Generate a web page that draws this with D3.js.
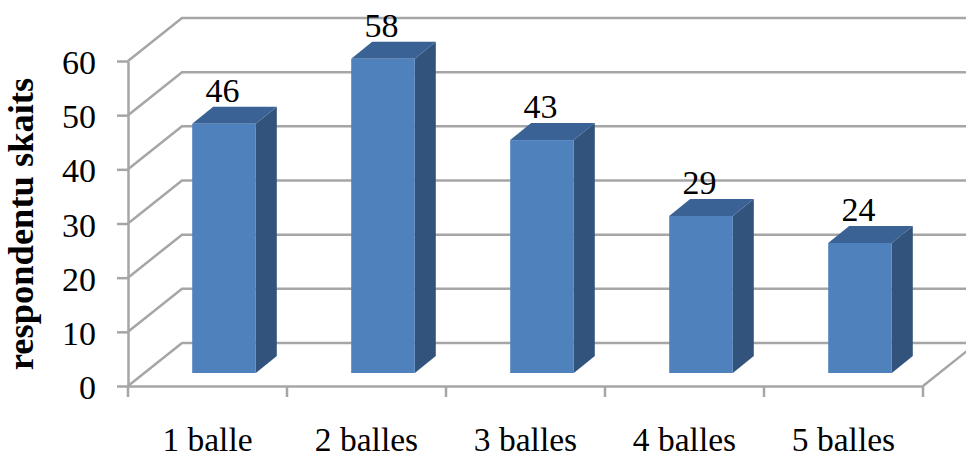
<!DOCTYPE html>
<html>
<head>
<meta charset="utf-8">
<script src="https://cdn.jsdelivr.net/npm/d3@7"></script>
<style>
  html, body { margin: 0; padding: 0; background: #fff; }
  text { font-family: "Liberation Serif", serif; fill: #000; }
</style>
</head>
<body>
<div id="chart"></div>
<script>
const categories = ["1 balle", "2 balles", "3 balles", "4 balles", "5 balles"];
const values = [46, 58, 43, 29, 24];
const yTicks = [0, 10, 20, 30, 40, 50, 60];
const yTitle = "respondentu skaits";

const width = 966, height = 454;
const gridColor = "#a6a6a6";
const lineW = 2.5;

// the 3d box: wall offset and bar depth
const wallDx = 54, wallDy = -43;
const barDx = 21, barDy = -17;
const barShiftX = 16.5, barShiftY = -13;

const x = d3.scaleBand().domain(categories).range([128, 923]);
const y = d3.scaleLinear().domain([0, 60]).range([386, 61]);
const barW = x.bandwidth() * 0.4;

const svg = d3.select("#chart").append("svg")
  .attr("width", width)
  .attr("height", height)
  .style("display", "block");

// grid lines go up the side wall then along the back
svg.selectAll(".grid").data(yTicks).enter()
  .append("polyline")
  .attr("fill", "none")
  .attr("stroke", gridColor)
  .attr("stroke-width", lineW)
  .attr("points", d => [
    [x.range()[0], y(d)],
    [x.range()[0] + wallDx, y(d) + wallDy],
    [width, y(d) + wallDy]
  ].join(" "));

// floor edge on the right
svg.append("line")
  .attr("x1", x.range()[1]).attr("y1", y(0))
  .attr("x2", x.range()[1] + wallDx).attr("y2", y(0) + wallDy)
  .attr("stroke", gridColor).attr("stroke-width", lineW);

const yAxis = svg.append("g")
  .attr("transform", "translate(128,0)")
  .call(d3.axisLeft(y).tickValues(yTicks).tickSize(11).tickSizeOuter(0).tickPadding(21));

const xAxis = svg.append("g")
  .attr("transform", "translate(0,386)")
  .call(d3.axisBottom(x).tickValues([]).tickSizeOuter(0));

// category separators
const xEdges = categories.map(c => x(c)).concat(x.range()[1]);
xAxis.selectAll(".sep").data(xEdges).enter()
  .append("line")
  .attr("x1", d => d).attr("x2", d => d)
  .attr("y1", 0).attr("y2", 11)
  .attr("stroke", gridColor).attr("stroke-width", lineW);

xAxis.selectAll(".cat").data(categories).enter()
  .append("text")
  .attr("x", d => x(d) + x.bandwidth() / 2)
  .attr("y", 65)
  .attr("text-anchor", "middle")
  .attr("font-size", 33.5)
  .text(d => d);

yAxis.selectAll("path, line").attr("stroke", gridColor).attr("stroke-width", lineW);
xAxis.select("path").attr("stroke", gridColor).attr("stroke-width", lineW);
yAxis.selectAll("text").attr("font-size", 34).attr("dy", "0.37em").style("fill", "#000");

svg.append("text")
  .attr("transform", "translate(33,224) rotate(-90)")
  .attr("text-anchor", "middle")
  .attr("font-size", 36.5)
  .attr("font-weight", "bold")
  .text(yTitle);

// bars
const bars = svg.selectAll(".bar").data(categories.map((c, i) => ({ c, v: values[i] }))).enter()
  .append("g")
  .attr("transform", d => `translate(${x(d.c) + (x.bandwidth() - barW) / 2 + barShiftX},${barShiftY})`);

bars.append("path") // side
  .attr("fill", "#31537c")
  .attr("d", d => `M${barW},${y(d.v)}l${barDx},${barDy}L${barW + barDx},${y(0) + barDy}L${barW},${y(0)}Z`);

bars.append("path") // top
  .attr("fill", "#3b6294")
  .attr("d", d => `M0,${y(d.v)}l${barDx},${barDy}h${barW}l${-barDx},${-barDy}Z`);

bars.append("rect") // front
  .attr("x", 0)
  .attr("y", d => y(d.v))
  .attr("width", barW)
  .attr("height", d => y(0) - y(d.v))
  .attr("fill", "#4f81bd");

bars.append("text")
  .attr("x", barW / 2 - 1.5)
  .attr("y", d => y(d.v) + barDy - 5)
  .attr("text-anchor", "middle")
  .attr("font-size", 34)
  .text(d => d.v);
</script>
</body>
</html>
